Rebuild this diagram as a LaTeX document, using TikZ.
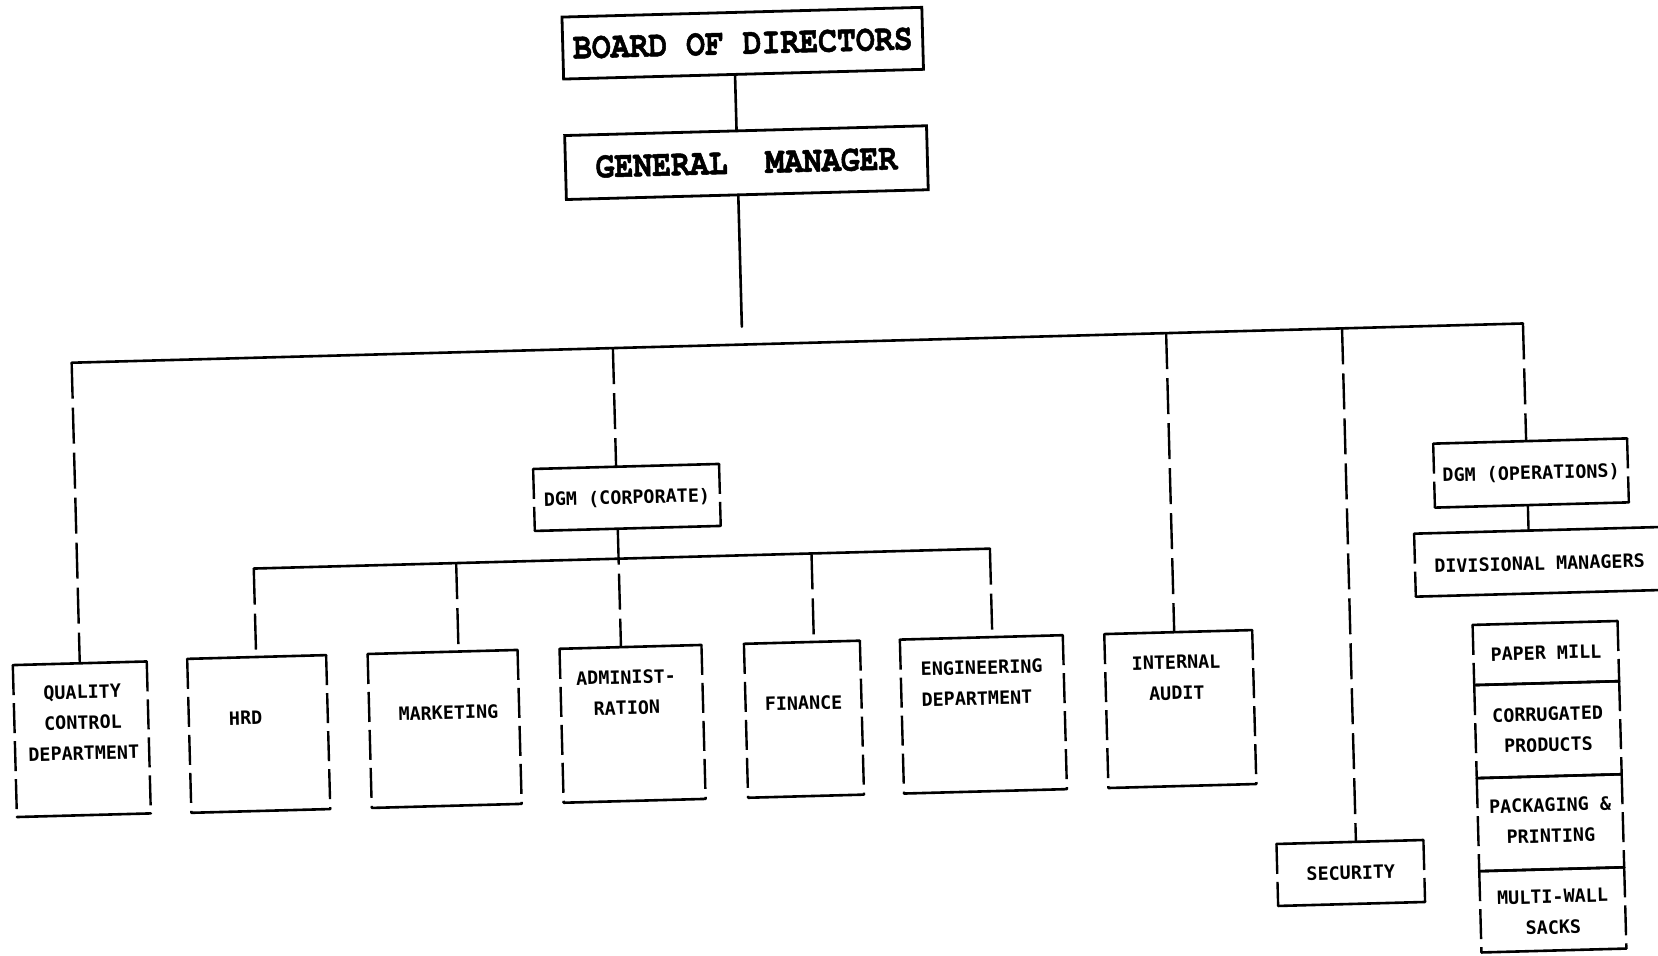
\documentclass[tikz,border=0pt]{standalone}
\usepackage{fontspec}
% typewriter face for the two top boxes, line-printer face for the units
\newfontfamily\typefont[FakeStretch=0.85,FakeBold=1.4]{TeX Gyre Cursor}
\newfontfamily\printfont{DejaVu Sans Mono}
\begin{document}
\begin{tikzpicture}[x=1pt,y=-1pt,
  solidline/.style={line width=2.6pt, line cap=round},
  sideline/.style={line width=2.4pt, dash pattern=on 30pt off 8pt},
  dropline/.style={line width=2.4pt, dash pattern=on 36pt off 9pt},
  headbox/.style={draw, line width=2.8pt, inner sep=0pt, outer sep=0pt,
    font=\typefont\bfseries\fontsize{37}{40}\selectfont},
  unitbox/.style={inner sep=0pt, outer sep=0pt},
  unittext/.style={font=\printfont\bfseries\fontsize{18.4}{30.7}\selectfont,
    inner sep=0pt, text depth=0pt, anchor=south, align=center},
]
\fill[white] (0,0) rectangle (1658,956);
\useasboundingbox (0,0) rectangle (1658,956);
\clip (0,0) rectangle (1658,956);

\begin{scope}[rotate around={1.55:(829,478)}, transform shape]

% top of the chart
\node[headbox, minimum width=360pt, minimum height=62pt] (board) at (754.5,41) {BOARD OF DIRECTORS};
\node[headbox, minimum width=362pt, minimum height=64pt] (gm) at (755,160.5) {\raisebox{-3pt}{GENERAL\ \ MANAGER}};

\coordinate (spine) at (746,100);
\coordinate (gmend) at (746,324.5);
\draw[solidline] (board.south -| spine) -- (gm.north -| spine);
\draw[solidline] (gm.south -| spine) -- (gmend);

% main bus
\coordinate (busL) at (75,342.3);
\coordinate (busR) at (1527,342.3);
\draw[solidline] (busL) -- (busR);

% unit boxes
\node[unitbox, minimum width=134pt, minimum height=152pt] (qc)  at (75,719) {};
\node[unitbox, minimum width=139pt, minimum height=154pt] (hrd) at (252,718.5) {};
\node[unitbox, minimum width=150pt, minimum height=154pt] (mkt) at (438,718.5) {};
\node[unitbox, minimum width=142pt, minimum height=154pt] (adm) at (626,718.5) {};
\node[unitbox, minimum width=116pt, minimum height=154pt] (fin) at (797.5,718.5) {};
\node[unitbox, minimum width=163pt, minimum height=154pt] (eng) at (977,718.5) {};
\node[unitbox, minimum width=148pt, minimum height=154pt] (aud) at (1174,718.5) {};
\node[unitbox, minimum width=147pt, minimum height=62pt]  (sec) at (1340,887) {};
\node[unitbox, minimum width=186pt, minimum height=62pt]  (corp) at (626.5,492) {};
\node[unitbox, minimum width=194pt, minimum height=64pt]  (ops) at (1531,492) {};
\node[unitbox, minimum width=255pt, minimum height=63pt]  (div) at (1540,581) {};
% divisions, stacked
\node[unitbox, minimum width=145pt, minimum height=60.2pt] (pm) at (1541,672.4) {};
\node[unitbox, minimum width=145pt, minimum height=93.1pt] (cp) at (1541,749.05) {};
\node[unitbox, minimum width=145pt, minimum height=93.1pt] (pp) at (1541,842.15) {};
\node[unitbox, minimum width=145pt, minimum height=81.3pt] (mw) at (1541,929.35) {};

\foreach \b in {qc,hrd,mkt,adm,fin,eng,aud,sec,corp,ops,div,pm,cp,pp,mw} {
  \draw[solidline] (\b.north west) -- (\b.north east) (\b.south west) -- (\b.south east);
  \draw[sideline] (\b.north west) -- (\b.south west) (\b.north east) -- (\b.south east);
}

% labels
\node[unittext] (qc-t)   at (76.6,739.9) {QUALITY\\CONTROL\\DEPARTMENT};
\node[unittext] (hrd-t)  at (239.3,709.2) {HRD};
\node[unittext] (mkt-t)  at (442.2,709.2) {MARKETING};
\node[unittext] (adm-t)  at (620.7,709.2) {ADMINIST-\\RATION};
\node[unittext] (fin-t)  at (797.5,709.2) {FINANCE};
\node[unittext, align=left] (eng-t) at (976.5,709.2) {ENGINEERING\\DEPARTMENT};
\node[unittext] (aud-t)  at (1171,709.2) {INTERNAL\\AUDIT};
\node[unittext] (sec-t)  at (1340,893.7) {SECURITY};
\node[unittext] (corp-t) at (626.5,498.7) {DGM (CORPORATE)};
\node[unittext] (ops-t)  at (1531,498.7) {DGM (OPERATIONS)};
\node[unittext] (div-t)  at (1537,589.5) {DIVISIONAL MANAGERS};
\node[unittext] (pm-t)   at (1541,679.1) {PAPER MILL};
\node[unittext] (cp-t)   at (1541,771.1) {CORRUGATED\\PRODUCTS};
\node[unittext] (pp-t)   at (1541,862) {PACKAGING \&\\PRINTING};
\node[unittext] (mw-t)   at (1541,953.5) {MULTI-WALL\\SACKS};

% drops from the main bus
\draw[dropline] (busL) -- (qc.north -| busL);
\coordinate (corpx) at (616.5,342.3);
\draw[dropline] (corpx) -- (corp.north -| corpx);
\coordinate (audx) at (1170,342.3);
\draw[dropline] (audx) -- (aud.north -| audx);
\coordinate (secx) at (1346,342.3);
\draw[dropline] (secx) -- (sec.north -| secx);
\draw[dropline] (busR) -- (ops.north -| busR);
\draw[dropline] (ops.south -| busR) -- (div.north -| busR);

% corporate sub-bus
\coordinate (subL) at (251.5,553);
\coordinate (subR) at (988,553);
\draw[solidline] (subL) -- (subR);
\draw[dropline] (corp.south -| corpx) -- (adm.north -| corpx);
\draw[dropline] (subL) -- (hrd.north -| subL);
\coordinate (mktx) at (454,553);
\draw[dropline] (mktx) -- (mkt.north -| mktx);
\coordinate (finx) at (809.5,553);
\draw[dropline] (finx) -- (fin.north -| finx);
\draw[dropline] (subR) -- (eng.north -| subR);

\end{scope}
\end{tikzpicture}
\end{document}
